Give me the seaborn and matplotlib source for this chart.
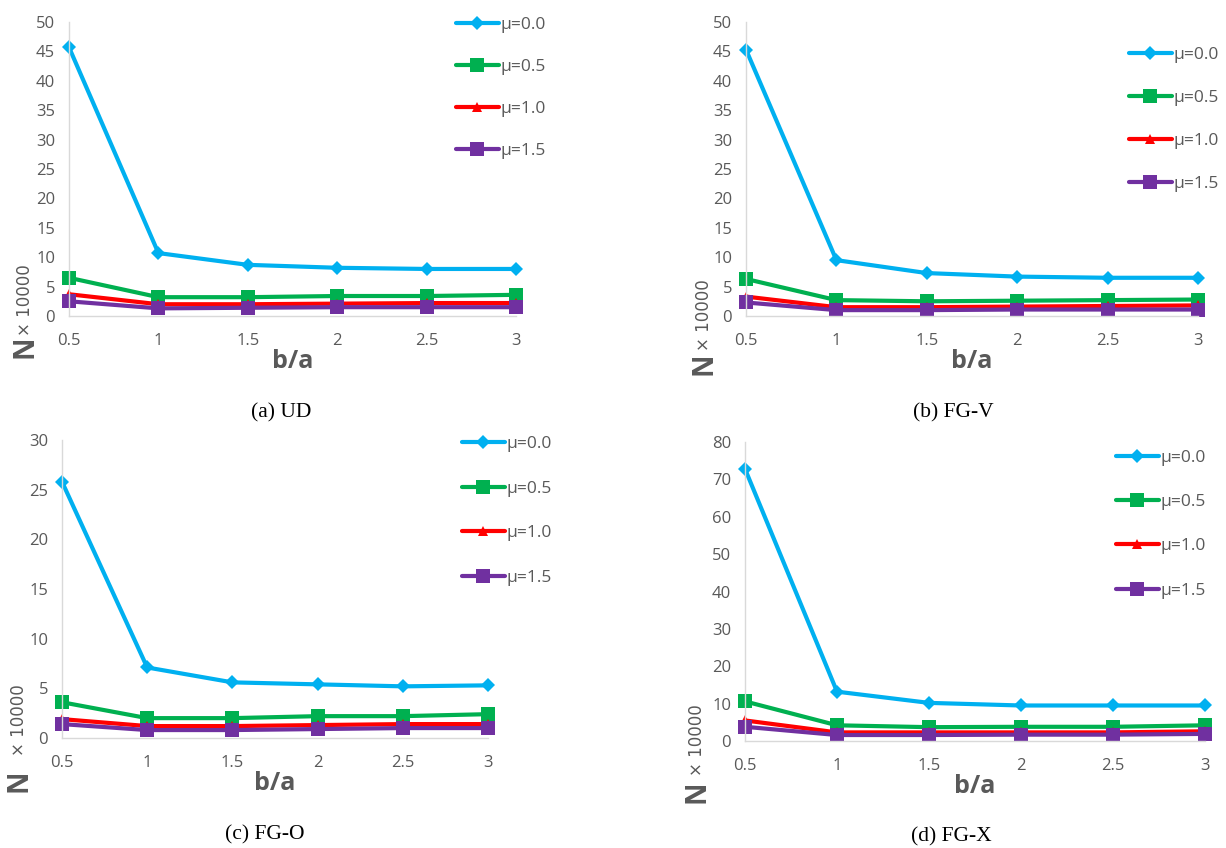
import matplotlib
matplotlib.use("Agg")
import matplotlib.pyplot as plt
import seaborn as sns

# %%
b_a = [0.5, 1, 1.5, 2, 2.5, 3]
mu_labels = ["μ=0.0", "μ=0.5", "μ=1.0", "μ=1.5"]

# (a) UD, N x 10000
ud_mu00 = [45.7, 10.7, 8.7, 8.2, 8.0, 8.0]
ud_mu05 = [6.5, 3.2, 3.2, 3.4, 3.4, 3.6]
ud_mu10 = [3.7, 2.0, 2.0, 2.1, 2.2, 2.2]
ud_mu15 = [2.5, 1.3, 1.4, 1.5, 1.5, 1.5]

# (b) FG-V
fgv_mu00 = [45.3, 9.5, 7.3, 6.7, 6.5, 6.5]
fgv_mu05 = [6.3, 2.7, 2.5, 2.6, 2.7, 2.8]
fgv_mu10 = [3.3, 1.5, 1.5, 1.6, 1.7, 1.8]
fgv_mu15 = [2.3, 1.0, 1.0, 1.1, 1.1, 1.1]

# (c) FG-O
fgo_mu00 = [25.8, 7.1, 5.6, 5.4, 5.2, 5.3]
fgo_mu05 = [3.6, 2.0, 2.0, 2.2, 2.2, 2.4]
fgo_mu10 = [1.9, 1.2, 1.2, 1.3, 1.4, 1.4]
fgo_mu15 = [1.4, 0.8, 0.8, 0.9, 1.0, 1.0]

# (d) FG-X
fgx_mu00 = [72.8, 13.2, 10.2, 9.5, 9.5, 9.5]
fgx_mu05 = [10.6, 4.2, 3.7, 3.8, 3.8, 4.2]
fgx_mu10 = [5.5, 2.3, 2.3, 2.3, 2.3, 2.6]
fgx_mu15 = [3.8, 1.6, 1.6, 1.7, 1.7, 1.9]

captions = ["(a) UD", "(b) FG-V", "(c) FG-O", "(d) FG-X"]
y_max = [50, 50, 30, 80]
y_step = [5, 5, 5, 10]

# %%
sns.set_theme(style="white")
plt.rcParams["font.family"] = ["Open Sans", "DejaVu Sans"]

colors = ["#00B0F0", "#00B050", "#FF0000", "#7030A0"]
markers = ["D", "s", "^", "s"]
msizes = [7, 9.5, 7.5, 9.5]
grey = "#595959"

W, H = 1226, 848
fig = plt.figure(figsize=(W / 100, H / 100), dpi=100)

# axes boxes in pixels: left, right, y of 0, y of top
boxes = [(69, 516, 316, 22), (746, 1198, 316, 22), (62, 488, 738, 440), (745, 1205, 741, 442)]
legend_at = [(447, 8), (1120, 38), (453, 427), (1107, 441)]
spacing = [1.5, 1.55, 1.65, 1.62]
ylab_at = [(25, 300, 347), (704, 315, 364), (19, 720, 781), (697, 740, 792)]
cap_at = [(281, 413), (953, 413), (265, 835), (951, 837)]

panels = [
    [ud_mu00, ud_mu05, ud_mu10, ud_mu15],
    [fgv_mu00, fgv_mu05, fgv_mu10, fgv_mu15],
    [fgo_mu00, fgo_mu05, fgo_mu10, fgo_mu15],
    [fgx_mu00, fgx_mu05, fgx_mu10, fgx_mu15],
]

for i, series in enumerate(panels):
    l, r, y0, y1 = boxes[i]
    ax = fig.add_axes([l / W, 1 - y0 / H, (r - l) / W, (y0 - y1) / H])
    for label, vals, c, m, ms in zip(mu_labels, series, colors, markers, msizes):
        sns.lineplot(
            x=b_a, y=vals, color=c, marker=m, markersize=ms,
            markeredgewidth=0, linewidth=3, label=label, ax=ax, clip_on=False,
        )
    ax.set_xlim(0.5, 3)
    ax.set_ylim(0, y_max[i])
    ax.set_xticks(b_a)
    ax.set_xticklabels(["0.5", "1", "1.5", "2", "2.5", "3"])
    ax.set_yticks(range(0, y_max[i] + 1, y_step[i]))
    ax.tick_params(axis="x", length=0, pad=12, labelsize=12, labelcolor=grey)
    ax.tick_params(axis="y", length=0, pad=10, labelsize=12, labelcolor=grey)
    for s in ["top", "right"]:
        ax.spines[s].set_visible(False)
    for s in ["left", "bottom"]:
        ax.spines[s].set_color("#D9D9D9")
        ax.spines[s].set_linewidth(1)
    ax.set_xlabel("b/a", fontsize=18, fontweight="bold", color=grey, labelpad=0)
    ax.set_ylabel("")

    lx, ly = legend_at[i]
    ax.legend(
        loc="upper left", bbox_to_anchor=(lx / W, 1 - ly / H),
        bbox_transform=fig.transFigure, frameon=False, fontsize=12.5,
        labelspacing=spacing[i], handlelength=2.5, handletextpad=0.1,
        borderpad=0, labelcolor=grey,
    )

    tx, yx, yn = ylab_at[i]
    fig.text(tx / W, 1 - yx / H, "× 10000", rotation=90, fontsize=12,
             family="DejaVu Sans", color=grey, ha="center", va="center")
    fig.text(tx / W, 1 - yn / H, "N", rotation=90, fontsize=20,
             fontweight="bold", color=grey, ha="center", va="center")

    cx, cy = cap_at[i]
    fig.text(cx / W, 1 - cy / H, captions[i], fontsize=15.5,
             family="Liberation Serif", color="black", ha="center", va="center")

plt.savefig("out.png", dpi=100)
